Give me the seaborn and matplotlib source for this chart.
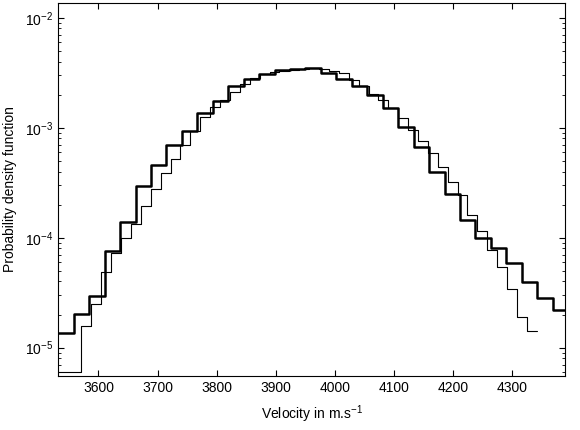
import numpy as np
import pandas as pd
import matplotlib
matplotlib.use("Agg")
import matplotlib.pyplot as plt
import seaborn as sns

# thick histogram: bin start, bin width, densities
thick_start = 3532.0
thick_width = 26.16
thick_pdf = [1.37e-5, 2.01e-5, 2.95e-5, 7.57e-5, 1.38e-4, 2.95e-4, 4.58e-4, 6.97e-4,
             9.4e-4, 1.37e-3, 1.76e-3, 2.39e-3, 2.8e-3, 3.1e-3, 3.33e-3, 3.42e-3,
             3.46e-3, 3.13e-3, 2.77e-3, 2.41e-3, 2.0e-3, 1.5e-3, 1.02e-3, 6.64e-4,
             3.92e-4, 2.52e-4, 1.46e-4, 9.88e-5, 8.1e-5, 5.9e-5, 3.98e-5, 2.81e-5, 2.2e-5]

# thin histogram
thin_start = 3521.0
thin_width = 16.76
thin_pdf = [6.05e-6, 6.05e-6, 6.05e-6, 1.57e-5, 2.51e-5, 4.84e-5, 7.21e-5, 9.86e-5,
            1.32e-4, 1.95e-4, 2.75e-4, 3.9e-4, 5.16e-4, 6.97e-4, 9.4e-4, 1.26e-3,
            1.54e-3, 1.79e-3, 2.12e-3, 2.52e-3, 2.81e-3, 3.05e-3, 3.2e-3, 3.29e-3,
            3.35e-3, 3.41e-3, 3.46e-3, 3.42e-3, 3.3e-3, 3.12e-3, 2.69e-3, 2.39e-3,
            2.01e-3, 1.79e-3, 1.5e-3, 1.22e-3, 9.53e-4, 7.57e-4, 5.93e-4, 4.42e-4,
            3.2e-4, 2.44e-4, 1.62e-4, 1.14e-4, 7.8e-5, 5.45e-5, 3.4e-5, 1.89e-5, 1.42e-5]

x_ticks = [3600, 3700, 3800, 3900, 4000, 4100, 4200, 4300]


def steps(start, width, vals):
    edges = start + width * np.arange(len(vals) + 1)
    return pd.DataFrame({"v": edges, "pdf": list(vals) + [vals[-1]]})


sns.set_style("ticks")
plt.rcParams["font.family"] = ["Liberation Sans", "DejaVu Sans"]
plt.rcParams["mathtext.default"] = "regular"
plt.rcParams["xtick.direction"] = "in"
plt.rcParams["ytick.direction"] = "in"
for k in ["text.color", "axes.labelcolor", "xtick.color", "ytick.color",
          "xtick.labelcolor", "ytick.labelcolor", "axes.edgecolor"]:
    plt.rcParams[k] = "black"

fig = plt.figure(figsize=(5.8, 4.3), dpi=100)
ax = fig.add_axes([0.1005, 0.1256, 0.8736, 0.868])

sns.lineplot(data=steps(thin_start, thin_width, thin_pdf), x="v", y="pdf",
             drawstyle="steps-post", color="black", linewidth=0.8, ax=ax)
sns.lineplot(data=steps(thick_start, thick_width, thick_pdf), x="v", y="pdf",
             drawstyle="steps-post", color="black", linewidth=1.8, ax=ax)

ax.set_yscale("log")
ax.set_xlim(3532, 4390)
ax.set_ylim(5.53e-6, 1.37e-2)
ax.set_xticks(x_ticks)
ax.tick_params(which="both", top=True, right=True, labelsize=10, color="black")
ax.tick_params(which="major", length=4)
ax.tick_params(which="minor", length=2.5)
for s in ax.spines.values():
    s.set_color("black")
    s.set_linewidth(0.8)

ax.set_xlabel("Velocity in m.s$^{-1}$", fontsize=10, labelpad=6)
ax.set_ylabel("Probability density function", fontsize=10, labelpad=6)

fig.savefig("out.png", dpi=100)
